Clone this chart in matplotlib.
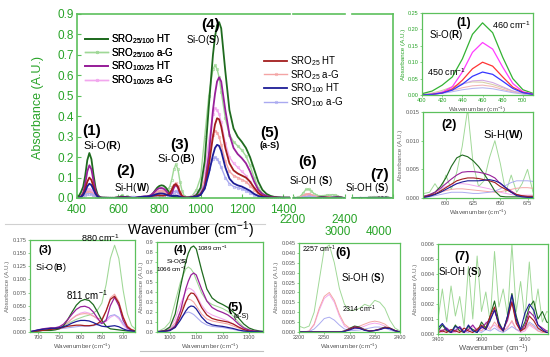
import matplotlib
matplotlib.use('Agg')
import matplotlib.pyplot as plt
from matplotlib.lines import Line2D
from matplotlib.ticker import FormatStrFormatter
from matplotlib.transforms import ScaledTranslation

plt.rcParams['font.family'] = ['Liberation Sans', 'DejaVu Sans']
plt.rcParams['mathtext.fontset'] = 'custom'
plt.rcParams['mathtext.rm'] = 'Liberation Sans'
plt.rcParams['mathtext.it'] = 'Liberation Sans:italic'
plt.rcParams['mathtext.bf'] = 'Liberation Sans:bold'

# ---------------- data ----------------
wn = ([400, 410, 420, 430, 440, 450, 460, 470, 480, 490, 500, 510, 520, 530, 540, 550, 560, 570]
      + [580, 585, 590, 595, 600, 605, 610, 615, 620, 625, 630, 635, 640, 645, 650, 655, 660, 665, 670, 675, 680]
      + [690, 700, 710, 720, 730, 740, 750, 760, 770, 780, 790, 800, 810, 820, 830, 840, 850, 860, 870, 880,
         890, 900, 910, 920, 930, 940]
      + [960, 980, 1000, 1020, 1040, 1060, 1070, 1080, 1090, 1100, 1120, 1140, 1160, 1180, 1200, 1220, 1240,
         1260, 1280, 1300, 1320, 1340, 1360, 1380, 1400]
      + [2200, 2210, 2220, 2230, 2240, 2250, 2260, 2270, 2280, 2290, 2300, 2310, 2320, 2330, 2340, 2350, 2360,
         2370, 2380, 2390, 2400]
      + [3000, 3200, 3400, 3420, 3440, 3460, 3480, 3500, 3520, 3540, 3560, 3580, 3600, 3620, 3640, 3660, 3680,
         3700, 3720, 3740, 3760, 3780, 3800, 3820, 3840, 3860, 3880, 3900, 4000])

ht_25_100 = ([0.004, 0.012, 0.03, 0.055, 0.11, 0.185, 0.22, 0.19, 0.115, 0.05, 0.016, 0.005, 0.002, 0.0015, 0.001, 0.001, 0.001, 0.0008]
             + [0.0003, 0.0005, 0.001, 0.002, 0.0035, 0.0055, 0.007, 0.0075, 0.0072, 0.0065, 0.0055, 0.0042, 0.0028, 0.0012, 0.0003, 0.0002, 0.0002, 0.0002, 0.0002, 0.0002, 0.0002]
             + [0.001, 0.002, 0.003, 0.003, 0.003, 0.004, 0.006, 0.012, 0.024, 0.038, 0.051, 0.059, 0.062, 0.06, 0.052, 0.038, 0.022, 0.011, 0.006, 0.005, 0.004, 0.003, 0.002, 0.002, 0.002, 0.003]
             + [0.005, 0.015, 0.05, 0.18, 0.45, 0.7, 0.79, 0.845, 0.86, 0.83, 0.62, 0.43, 0.34, 0.3, 0.275, 0.245, 0.2, 0.14, 0.08, 0.04, 0.02, 0.01, 0.005, 0.003, 0.002]
             + [0, 0, 0, 0, 0, 0, 0, 0, 0, 0.0005, 0.0018, 0.003, 0.0025, 0.0012, 0.0005, 0.0008, 0.0015, 0.0025, 0.002, 0.0008, 0]
             + [0.0002, 0.0002, 0.0002, 0.0006, 0.0002, 0.0001, 0.0006, 0.0002, 0.0001, 0.0005, 0.0003, 0.0001, 0.0008, 0.0004, 0.0012, 0.0022, 0.0008, 0.0002, 0.0012, 0.0027, 0.0012, 0.0002, 0.0008, 0.0018, 0.0022, 0.001, 0.0015, 0.0008, 0.0002])

ag_25_100 = ([0.002, 0.006, 0.014, 0.025, 0.035, 0.04, 0.039, 0.032, 0.022, 0.012, 0.005, 0.002, 0.001, 0.001, 0.001, 0.001, 0.001, 0.001]
             + [0.0008, 0.001, 0.0025, 0.001, 0.004, 0.0015, 0.0045, 0.009, 0.0155, 0.006, 0.002, 0.003, 0.007, 0.010, 0.006, 0.001, 0.004, 0.001, 0.0025, 0.005, 0.001]
             + [0.002, 0.003, 0.004, 0.005, 0.006, 0.007, 0.009, 0.012, 0.016, 0.02, 0.024, 0.027, 0.03, 0.032, 0.036, 0.042, 0.055, 0.09, 0.14, 0.165, 0.14, 0.08, 0.035, 0.012, 0.005, 0.004]
             + [0.012, 0.04, 0.1, 0.3, 0.5, 0.63, 0.65, 0.63, 0.59, 0.52, 0.39, 0.31, 0.275, 0.255, 0.235, 0.205, 0.16, 0.1, 0.05, 0.022, 0.01, 0.005, 0.003, 0.002, 0.001]
             + [0.003, 0.002, 0.003, 0.01, 0.026, 0.042, 0.044, 0.035, 0.022, 0.014, 0.011, 0.011, 0.012, 0.014, 0.013, 0.016, 0.015, 0.012, 0.006, 0.002, 0.0005]
             + [0.0008, 0.001, 0.001, 0.003, 0.0008, 0.0032, 0.0012, 0.0025, 0.0005, 0.0045, 0.001, 0.0052, 0.0015, 0.0028, 0.0008, 0.0055, 0.0018, 0.003, 0.0012, 0.006, 0.0015, 0.0035, 0.001, 0.0048, 0.0012, 0.003, 0.0008, 0.0015, 0.0008])

ht_100_25 = ([0.0, 0.002, 0.008, 0.025, 0.07, 0.13, 0.16, 0.14, 0.085, 0.035, 0.01, 0.003, 0.001, 0.001, 0.001, 0.0008, 0.0006, 0.0005]
             + [0.0003, 0.0006, 0.001, 0.0017, 0.0025, 0.0033, 0.004, 0.0045, 0.0046, 0.0046, 0.0045, 0.0043, 0.004, 0.0035, 0.0025, 0.0018, 0.0012, 0.0006, 0.0003, 0.0002, 0.0002]
             + [0.002, 0.004, 0.006, 0.007, 0.008, 0.008, 0.01, 0.015, 0.024, 0.034, 0.043, 0.048, 0.049, 0.046, 0.038, 0.026, 0.016, 0.022, 0.05, 0.066, 0.05, 0.022, 0.008, 0.003, 0.002, 0.002]
             + [0.004, 0.008, 0.015, 0.06, 0.21, 0.43, 0.51, 0.57, 0.59, 0.57, 0.43, 0.31, 0.245, 0.215, 0.195, 0.17, 0.13, 0.08, 0.04, 0.02, 0.01, 0.005, 0.003, 0.002, 0.001]
             + [0, 0, 0, 0, 0, 0, 0, 0, 0, 0.0004, 0.0015, 0.0026, 0.0022, 0.001, 0.0004, 0.0007, 0.0013, 0.0022, 0.0018, 0.0007, 0]
             + [0.0002, 0.0002, 0.0003, 0.0002, 0.0004, 0.0001, 0.0002, 0.0005, 0.0001, 0.0003, 0.0006, 0.0002, 0.0004, 0.0007, 0.001, 0.0016, 0.0006, 0.0003, 0.0009, 0.0022, 0.0009, 0.0002, 0.0006, 0.0015, 0.0012, 0.0006, 0.0004, 0.0002, 0.0002])

ag_100_25 = ([0.001, 0.004, 0.01, 0.02, 0.033, 0.043, 0.045, 0.038, 0.025, 0.012, 0.005, 0.002, 0.001, 0.001, 0.001, 0.0008, 0.0006, 0.0005]
             + [0.0002, 0.0005, 0.001, 0.0015, 0.002, 0.0023, 0.0025, 0.0025, 0.0024, 0.0022, 0.002, 0.0018, 0.0016, 0.0013, 0.001, 0.0008, 0.0006, 0.0005, 0.0005, 0.0005, 0.0005]
             + [0.002, 0.003, 0.004, 0.005, 0.006, 0.007, 0.009, 0.013, 0.019, 0.026, 0.032, 0.036, 0.038, 0.036, 0.031, 0.024, 0.018, 0.02, 0.028, 0.032, 0.025, 0.013, 0.005, 0.002, 0.001, 0.001]
             + [0.008, 0.02, 0.05, 0.13, 0.28, 0.41, 0.44, 0.43, 0.41, 0.37, 0.27, 0.2, 0.17, 0.15, 0.13, 0.11, 0.08, 0.05, 0.03, 0.012, 0.006, 0.003, 0.002, 0.001, 0.001]
             + [0, 0, 0.0005, 0.0035, 0.011, 0.017, 0.019, 0.015, 0.008, 0.003, 0.0015, 0.0015, 0.002, 0.003, 0.004, 0.0045, 0.004, 0.003, 0.0015, 0.0005, 0]
             + [0.0001, 0.0001, 0.0002, 0.0001, 0.0003, 0.0002, 0.0001, 0.0004, 0.0002, 0.0001, 0.0005, 0.0003, 0.0002, 0.0008, 0.0004, 0.0006, 0.0003, 0.0002, 0.0005, 0.0008, 0.0003, 0.0001, 0.0002, 0.0006, 0.0004, 0.0002, 0.0001, 0.0001, 0.0001])

ht_25 = ([0.0, 0.002, 0.006, 0.018, 0.045, 0.08, 0.10, 0.088, 0.055, 0.024, 0.008, 0.002, 0.001, 0.001, 0.0008, 0.0006, 0.0005, 0.0004]
         + [0.0002, 0.0004, 0.0007, 0.0012, 0.0018, 0.0024, 0.003, 0.0033, 0.0035, 0.0035, 0.0034, 0.0032, 0.003, 0.0027, 0.002, 0.0015, 0.001, 0.0006, 0.0004, 0.0003, 0.0003]
         + [0.001, 0.002, 0.003, 0.004, 0.005, 0.006, 0.007, 0.009, 0.011, 0.012, 0.013, 0.013, 0.012, 0.012, 0.013, 0.016, 0.022, 0.04, 0.062, 0.068, 0.055, 0.028, 0.01, 0.004, 0.002, 0.001]
         + [0.004, 0.008, 0.02, 0.05, 0.16, 0.3, 0.36, 0.39, 0.385, 0.35, 0.245, 0.17, 0.135, 0.12, 0.11, 0.1, 0.08, 0.05, 0.025, 0.01, 0.005, 0.003, 0.002, 0.001, 0.001]
         + [0, 0, 0, 0, 0, 0, 0, 0, 0, 0.0004, 0.0014, 0.0025, 0.002, 0.001, 0.0005, 0.0008, 0.0014, 0.0023, 0.0019, 0.0007, 0]
         + [0.0001, 0.0001, 0.0001, 0.0002, 0.0001, 0.0003, 0.0002, 0.0001, 0.0004, 0.0002, 0.0001, 0.0003, 0.0006, 0.0003, 0.0012, 0.0018, 0.0005, 0.0002, 0.0011, 0.0021, 0.0007, 0.0002, 0.0004, 0.0012, 0.0009, 0.0004, 0.0002, 0.0001, 0.0001])

ag_25 = ([0.001, 0.003, 0.007, 0.014, 0.022, 0.028, 0.03, 0.026, 0.017, 0.009, 0.004, 0.001, 0.001, 0.001, 0.0008, 0.0006, 0.0005, 0.0004]
         + [0.0002, 0.0004, 0.0007, 0.001, 0.0013, 0.0015, 0.0016, 0.0016, 0.0015, 0.0014, 0.0013, 0.0012, 0.0011, 0.001, 0.0011, 0.0013, 0.0015, 0.0017, 0.0018, 0.0018, 0.0017]
         + [0.001, 0.002, 0.003, 0.004, 0.005, 0.006, 0.008, 0.012, 0.018, 0.025, 0.031, 0.034, 0.035, 0.034, 0.03, 0.026, 0.025, 0.04, 0.065, 0.072, 0.058, 0.03, 0.012, 0.005, 0.002, 0.001]
         + [0.006, 0.012, 0.035, 0.09, 0.21, 0.31, 0.33, 0.32, 0.3, 0.26, 0.18, 0.13, 0.11, 0.1, 0.09, 0.08, 0.06, 0.04, 0.02, 0.01, 0.005, 0.003, 0.002, 0.001, 0.001]
         + [0, 0, 0.0005, 0.004, 0.012, 0.018, 0.02, 0.016, 0.009, 0.004, 0.002, 0.002, 0.003, 0.004, 0.005, 0.0055, 0.005, 0.004, 0.002, 0.0005, 0]
         + [0.0001, 0.0001, 0.0001, 0.0003, 0.0002, 0.0001, 0.0003, 0.0002, 0.0001, 0.0003, 0.0002, 0.0004, 0.0002, 0.0005, 0.0003, 0.0008, 0.0004, 0.0002, 0.0004, 0.0009, 0.0003, 0.0002, 0.0003, 0.0007, 0.0005, 0.0002, 0.0001, 0.0001, 0.0001])

ht_100 = ([0.0, 0.002, 0.006, 0.015, 0.033, 0.057, 0.07, 0.063, 0.042, 0.02, 0.007, 0.002, 0.001, 0.001, 0.0008, 0.0006, 0.0005, 0.0004]
          + [0.0001, 0.0003, 0.0006, 0.001, 0.0015, 0.002, 0.0025, 0.0028, 0.003, 0.003, 0.003, 0.0031, 0.0032, 0.003, 0.0026, 0.0018, 0.001, 0.0004, 0.0002, 0.0001, 0.0001]
          + [0.002, 0.004, 0.005, 0.006, 0.007, 0.007, 0.008, 0.01, 0.013, 0.017, 0.02, 0.022, 0.022, 0.021, 0.018, 0.014, 0.011, 0.01, 0.011, 0.012, 0.01, 0.006, 0.003, 0.002, 0.001, 0.001]
          + [0.004, 0.007, 0.015, 0.045, 0.12, 0.21, 0.245, 0.26, 0.255, 0.23, 0.15, 0.095, 0.072, 0.062, 0.056, 0.046, 0.035, 0.02, 0.01, 0.005, 0.003, 0.002, 0.001, 0.001, 0.001]
          + [0, 0, 0, 0, 0, 0, 0, 0, 0, 0.0003, 0.001, 0.002, 0.0018, 0.0008, 0.0004, 0.0007, 0.0012, 0.002, 0.0017, 0.0006, 0]
          + [0.0002, 0.0002, 0.0004, 0.0007, 0.0003, 0.0001, 0.0005, 0.0004, 0.0001, 0.0006, 0.0002, 0.0001, 0.0005, 0.0003, 0.0009, 0.0016, 0.0007, 0.0002, 0.0012, 0.0026, 0.001, 0.0003, 0.0014, 0.002, 0.0016, 0.0006, 0.0003, 0.0001, 0.0001])

ag_100 = ([0.001, 0.002, 0.005, 0.01, 0.016, 0.02, 0.022, 0.019, 0.013, 0.007, 0.003, 0.001, 0.001, 0.0008, 0.0006, 0.0005, 0.0004, 0.0004]
          + [0.0001, 0.0002, 0.0004, 0.0006, 0.0008, 0.001, 0.001, 0.001, 0.0009, 0.0008, 0.0008, 0.0009, 0.001, 0.0012, 0.0016, 0.0022, 0.0027, 0.003, 0.003, 0.003, 0.0029]
          + [0.001, 0.002, 0.003, 0.004, 0.004, 0.005, 0.006, 0.007, 0.008, 0.009, 0.01, 0.011, 0.011, 0.011, 0.012, 0.014, 0.017, 0.024, 0.031, 0.033, 0.028, 0.016, 0.007, 0.003, 0.002, 0.001]
          + [0.005, 0.012, 0.03, 0.07, 0.14, 0.19, 0.2, 0.19, 0.175, 0.15, 0.1, 0.07, 0.056, 0.05, 0.045, 0.036, 0.026, 0.015, 0.008, 0.004, 0.002, 0.001, 0.001, 0.001, 0.001]
          + [0, 0, 0.0003, 0.0015, 0.004, 0.0068, 0.0075, 0.006, 0.0035, 0.0015, 0.0008, 0.0008, 0.001, 0.0015, 0.002, 0.0025, 0.0025, 0.002, 0.001, 0.0003, 0]
          + [0.0002, 0.0002, 0.0003, 0.0006, 0.0004, 0.0002, 0.0003, 0.0005, 0.0002, 0.0001, 0.0003, 0.0002, 0.0001, 0.0003, 0.0002, 0.0004, 0.0002, 0.0001, 0.0003, 0.0005, 0.0003, 0.0002, 0.0004, 0.0008, 0.0006, 0.0003, 0.0002, 0.0001, 0.0001])

series_labels = ['SRO$_{25/100}$ HT', 'SRO$_{25/100}$ a-G', 'SRO$_{100/25}$ HT', 'SRO$_{100/25}$ a-G',
                 'SRO$_{25}$ HT', 'SRO$_{25}$ a-G', 'SRO$_{100}$ HT', 'SRO$_{100}$ a-G']
series_data = [ht_25_100, ag_25_100, ht_100_25, ag_100_25, ht_25, ag_25, ht_100, ag_100]

main_x_ticks = [400, 600, 800, 1000, 1200, 1400]
main_y_ticks = [0.0, 0.1, 0.2, 0.3, 0.4, 0.5, 0.6, 0.7, 0.8, 0.9]

# ---------------- styles ----------------
colors = ['#1f6b1f', '#9fd896', '#98209a', '#f2a6ee', '#a21d1d', '#f4a4a4', '#1d1d96', '#a9a9f0']
bright = ['#33b233', '#d8cfa6', '#ff3cff', '#d2a8e2', '#ff3434', '#f2b6b6', '#3535ff', '#b6b6ef']
is_ag = [False, True, False, True, False, True, False, True]
GREEN = '#27a327'
SPINE = '#5cc05c'

W, H = 550, 357
fig = plt.figure(figsize=(5.5, 3.57), dpi=100)


def box(x0, y0, x1, y1):
    return [x0 / W, 1 - y1 / H, (x1 - x0) / W, (y1 - y0) / H]


def T(x, y, s, **kw):
    kw.setdefault('ha', 'center')
    kw.setdefault('va', 'center')
    return fig.text(x / W, 1 - y / H, s, **kw)


# order of drawing: light a-G first, then HT
order = [1, 3, 5, 7, 0, 2, 4, 6]

# ---------------- main broken-axis plot ----------------
axA = fig.add_axes(box(77, 14, 290, 198))
axB = fig.add_axes(box(293, 14, 345, 198))
axC = fig.add_axes(box(352, 14, 393, 198))
lines = {}
for ax in (axA, axB, axC):
    for i in order:
        if is_ag[i]:
            ln, = ax.plot(wn, series_data[i], color=colors[i], lw=1.0, marker='o', ms=1.8,
                          mfc='none', mew=0.5, label=series_labels[i])
        else:
            ln, = ax.plot(wn, series_data[i], color=colors[i], lw=1.3, label=series_labels[i])
        if ax is axA:
            lines[i] = ln
    ax.set_ylim(0, 0.9)
    for s in ax.spines.values():
        s.set_color(SPINE)
        s.set_linewidth(1.2)
    ax.tick_params(axis='both', colors=SPINE, labelcolor=GREEN, labelsize=8.5, direction='in', length=3)
    ax.set_facecolor('none')

axA.set_xlim(400, 1434)
axA.set_xticks(main_x_ticks)
axA.set_yticks(main_y_ticks)
axA.yaxis.set_major_formatter(FormatStrFormatter('%.1f'))
axA.spines['right'].set_visible(False)
axA.tick_params(axis='x', pad=4)
axA.tick_params(axis='y', pad=2)

axB.set_xlim(2200, 2400)
axB.set_xticks([2200, 2400])
axB.set_xticks([2300], minor=True)
axB.tick_params(axis='x', which='minor', direction='in', length=2, colors=SPINE)
axB.set_yticks([])
axB.spines['left'].set_visible(False)
axB.spines['right'].set_visible(False)
axB.tick_params(axis='x', pad=11.5)

axC.set_xlim(3000, 4000)
axC.set_xticks([3000, 4000])
axC.set_yticks([])
axC.spines['left'].set_visible(False)
axC.tick_params(axis='x', pad=20)
for lab in axC.get_xticklabels():
    lab.set_transform(lab.get_transform() + ScaledTranslation(-14 / 100, 0, fig.dpi_scale_trans))

T(190, 230, 'Wavenumber (cm$^{-1}$)', fontsize=10)
T(38, 107, 'Absorbance (A.U.)', fontsize=9, rotation=90, color=GREEN)

# legends
leg1 = axA.legend([lines[i] for i in (0, 1, 2, 3)], [series_labels[i] for i in (0, 1, 2, 3)],
                  loc='upper left', bbox_to_anchor=(85 / W, 1 - 32 / H), bbox_transform=fig.transFigure,
                  frameon=False, fontsize=7, handlelength=2.4, handletextpad=0.3, labelspacing=0.0,
                  borderpad=0, borderaxespad=0)
axA.add_artist(leg1)
axB.legend([lines[i] for i in (4, 5, 6, 7)], [series_labels[i] for i in (4, 5, 6, 7)],
           loc='upper left', bbox_to_anchor=(264 / W, 1 - 54 / H), bbox_transform=fig.transFigure,
           frameon=False, fontsize=7, handlelength=2.4, handletextpad=0.3, labelspacing=0.0,
           borderpad=0, borderaxespad=0)

# band annotations on the main plot
T(92, 131, '(1)', fontsize=11, fontweight='bold')
T(103, 146, 'Si-O($\\mathbf{R}$)', fontsize=8)
T(126, 171, '(2)', fontsize=11, fontweight='bold')
T(132, 188, 'Si-H($\\mathbf{W}$)', fontsize=7)
T(180, 145, '(3)', fontsize=11, fontweight='bold')
T(177, 159, 'Si-O($\\mathbf{B}$)', fontsize=8)
T(211, 25, '(4)', fontsize=11, fontweight='bold')
T(203, 40, 'Si-O($\\mathbf{S}$)', fontsize=7)
T(270, 133, '(5)', fontsize=11, fontweight='bold')
T(270, 146, '(a-S)', fontsize=6.5, fontweight='bold')
T(308, 162, '(6)', fontsize=11, fontweight='bold')
T(311, 181, 'Si-OH ($\\mathbf{S}$)', fontsize=7)
T(380, 175, '(7)', fontsize=11, fontweight='bold')
T(367, 188, 'Si-OH ($\\mathbf{S}$)', fontsize=7)


# ---------------- insets ----------------
def inset(rect, xlim, ylim, xticks, yticks, yfmt, cols, lw=0.8, ylab_color='#666666', xlab_size=4.5,
          xlab_pad=1):
    ax = fig.add_axes(box(*rect))
    for i in order:
        ax.plot(wn, series_data[i], color=cols[i], lw=lw if not is_ag[i] else lw * 0.85)
    ax.set_xlim(*xlim)
    ax.set_ylim(*ylim)
    ax.set_xticks(xticks)
    ax.set_yticks(yticks)
    ax.yaxis.set_major_formatter(FormatStrFormatter(yfmt))
    for s in ax.spines.values():
        s.set_color(SPINE)
        s.set_linewidth(0.9)
    ax.tick_params(axis='both', colors=SPINE, labelcolor='#555555', labelsize=4, length=1.5, width=0.5, pad=1)
    ax.set_xlabel('Wavenumber (cm$^{-1}$)', fontsize=xlab_size, color='#555555', labelpad=xlab_pad)
    ax.set_ylabel('Absorbance (A.U.)', fontsize=4.5, color=ylab_color, labelpad=1.5)
    return ax


ax1 = inset((422, 13, 533, 95), (400, 510), (0, 0.25), [400, 420, 440, 460, 480, 500],
            [0, 0.05, 0.10, 0.15, 0.20, 0.25], '%.2f', bright, lw=0.9, ylab_color=GREEN)
ax1.tick_params(labelcolor=GREEN)
T(464, 23, '(1)', fontsize=8.5, fontweight='bold')
T(446, 35, 'Si-O($\\mathbf{R}$)', fontsize=7)
T(511, 25, '460 cm$^{-1}$', fontsize=6.5)
T(446, 72, '450 cm$^{-1}$', fontsize=6.5)

ax2 = inset((423, 112, 533, 198), (579, 680), (0, 0.015), [600, 625, 650, 675],
            [0, 0.005, 0.010, 0.015], '%.3f', colors, lw=0.8)
T(449, 125, '(2)', fontsize=9, fontweight='bold')
T(503, 135, 'Si-H($\\mathbf{W}$)', fontsize=8)

ax3 = inset((30, 240, 135, 332), (681, 928), (0, 0.175), [700, 750, 800, 850, 900],
            [0, 0.025, 0.05, 0.075, 0.10, 0.125, 0.15, 0.175], '%.3f', colors, lw=0.9)
T(45, 250, '(3)', fontsize=8, fontweight='bold')
T(51, 268, 'Si-O($\\mathbf{B}$)', fontsize=6.5)
T(100, 238, '880 cm$^{-1}$', fontsize=6.5)
T(87, 295, '811 cm$^{-1}$', fontsize=7)

ax4 = inset((157, 242, 263, 332), (951, 1353), (0, 0.9), [1000, 1100, 1200, 1300],
            [0, 0.1, 0.2, 0.3, 0.4, 0.5, 0.6, 0.7, 0.8, 0.9], '%.1f', colors, lw=0.9)
T(180, 250, '(4)', fontsize=8, fontweight='bold')
T(177, 261, 'Si-O($\\mathbf{S}$)', fontsize=4.5)
T(171, 269, '1066 cm$^{-1}$', fontsize=4.5)
T(212, 248, '1089 cm$^{-1}$', fontsize=4.5)
T(235, 308, '(5)', fontsize=9, fontweight='bold')
T(241, 316, '(a-S)', fontsize=5)

ax6 = inset((299, 243, 400, 332), (2200, 2400), (0, 0.045), [2200, 2250, 2300, 2350, 2400],
            [0, 0.005, 0.010, 0.015, 0.020, 0.025, 0.030, 0.035, 0.040, 0.045], '%.3f', colors, lw=0.8)
T(302, 249, '2257 cm$^{-1}$', fontsize=5, ha='left')
T(343, 253, '(6)', fontsize=9, fontweight='bold')
T(363, 278, 'Si-OH ($\\mathbf{S}$)', fontsize=7)
T(359, 309, '2314 cm$^{-1}$', fontsize=5)

ax7 = inset((438, 244, 548, 334), (3400, 3906), (0, 0.006), [3400, 3600, 3800],
            [0, 0.001, 0.002, 0.003, 0.004, 0.005, 0.006], '%.3f', colors, lw=0.8, xlab_size=5.5,
            xlab_pad=0.5)
T(462, 257, '(7)', fontsize=9, fontweight='bold')
T(460, 272, 'Si-OH ($\\mathbf{S}$)', fontsize=7)

# light separators
fig.add_artist(Line2D([5 / W, 265 / W], [1 - 224 / H] * 2, color='#d0d0d0', lw=0.8))
fig.add_artist(Line2D([140 / W, 263 / W], [1 - 351 / H] * 2, color='#c0c0c0', lw=0.8))

fig.savefig('out.png', dpi=100)
